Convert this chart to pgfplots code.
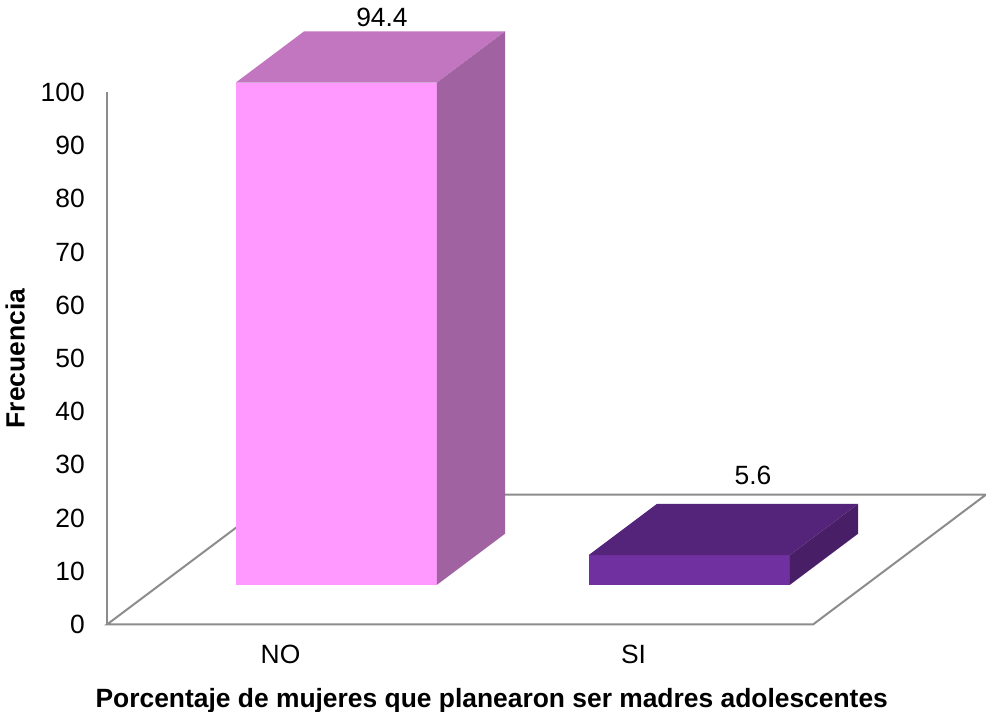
\documentclass[border=0pt]{standalone}
\usepackage{fontspec}
\setmainfont{Liberation Sans}
\usepackage{pgfplots}
\pgfplotsset{compat=1.18}

\definecolor{noFront}{RGB}{255,153,255}
\definecolor{noTop}{RGB}{194,118,192}
\definecolor{noSide}{RGB}{160,98,160}
\definecolor{siFront}{RGB}{112,48,160}
\definecolor{siTop}{RGB}{84,36,122}
\definecolor{siSide}{RGB}{72,30,102}
\definecolor{floorLine}{RGB}{140,140,140}

% depth geometry of the pseudo-3D floor and bars (axis units)
\newcommand{\hw}{0.285}  % half width of a bar
\newcommand{\DX}{0.490}  % horizontal shift of the full floor depth
\newcommand{\DY}{24.4}   % vertical shift of the full floor depth
\newcommand{\dF}{0.305}  % depth of the bar front
\newcommand{\dB}{0.70}   % depth of the bar back

% #1 category position, #2 value, #3 front, #4 top, #5 side colour
\newcommand{\barthreed}[5]{%
  \pgfmathsetmacro{\xa}{#1-\hw+\dF*\DX}%
  \pgfmathsetmacro{\xb}{#1+\hw+\dF*\DX}%
  \pgfmathsetmacro{\xc}{#1-\hw+\dB*\DX}%
  \pgfmathsetmacro{\xd}{#1+\hw+\dB*\DX}%
  \pgfmathsetmacro{\ya}{\dF*\DY}%
  \pgfmathsetmacro{\yb}{\dF*\DY+#2}%
  \pgfmathsetmacro{\yc}{\dB*\DY}%
  \pgfmathsetmacro{\yd}{\dB*\DY+#2}%
  \addplot[fill=#3, draw=none] coordinates {(\xa,\ya) (\xb,\ya) (\xb,\yb) (\xa,\yb)} -- cycle;
  \addplot[fill=#4, draw=none] coordinates {(\xa,\yb) (\xb,\yb) (\xd,\yd) (\xc,\yd)} -- cycle;
  \addplot[fill=#5, draw=none] coordinates {(\xb,\ya) (\xd,\yc) (\xd,\yd) (\xb,\yb)} -- cycle;
}

\begin{document}
\begin{tikzpicture}
\path[use as bounding box] (-53.5pt,-43.75pt) rectangle (439.5pt,312.25pt);
\begin{axis}[
  at={(0,0)}, anchor=south west,
  scale only axis,
  width=353pt, height=266pt,
  xmin=-0.5, xmax=1.5,
  ymin=0, ymax=100,
  clip=false,
  axis x line*=bottom,
  axis y line*=left,
  axis line style={draw=floorLine, line width=1pt, -},
  major tick length=0pt,
  xtick={0,1},
  xticklabels={NO,SI},
  ytick={0,10,...,100},
  font=\fontsize{13.2}{15}\selectfont,
  /pgf/number format/assume math mode=true,
  yticklabel style={anchor=east, xshift=-7.6pt},
  xticklabel style={anchor=north, yshift=-6.8pt, xshift=-1.5pt},
  ylabel={\textbf{Frecuencia}},
  ylabel style={at={(axis description cs:-0.130,0.5)}, anchor=center},
  xlabel={\textbf{Porcentaje de mujeres que planearon ser madres adolescentes}},
  xlabel style={at={(axis description cs:0.545,-0.143)}, anchor=center},
]
% floor of the 3D frame
\addplot[draw=floorLine, line width=1pt, fill=white]
  coordinates {(-0.5,0) (1.5,0) (1.99,24.4) (-0.01,24.4)} -- cycle;

% bars
\barthreed{0}{94.4}{noFront}{noTop}{noSide}
\barthreed{1}{5.6}{siFront}{siTop}{siSide}

% value labels
\node at (axis cs:0.279,114.2) {94.4};
\node at (axis cs:1.330,28.1) {5.6};
\end{axis}
\end{tikzpicture}
\end{document}
